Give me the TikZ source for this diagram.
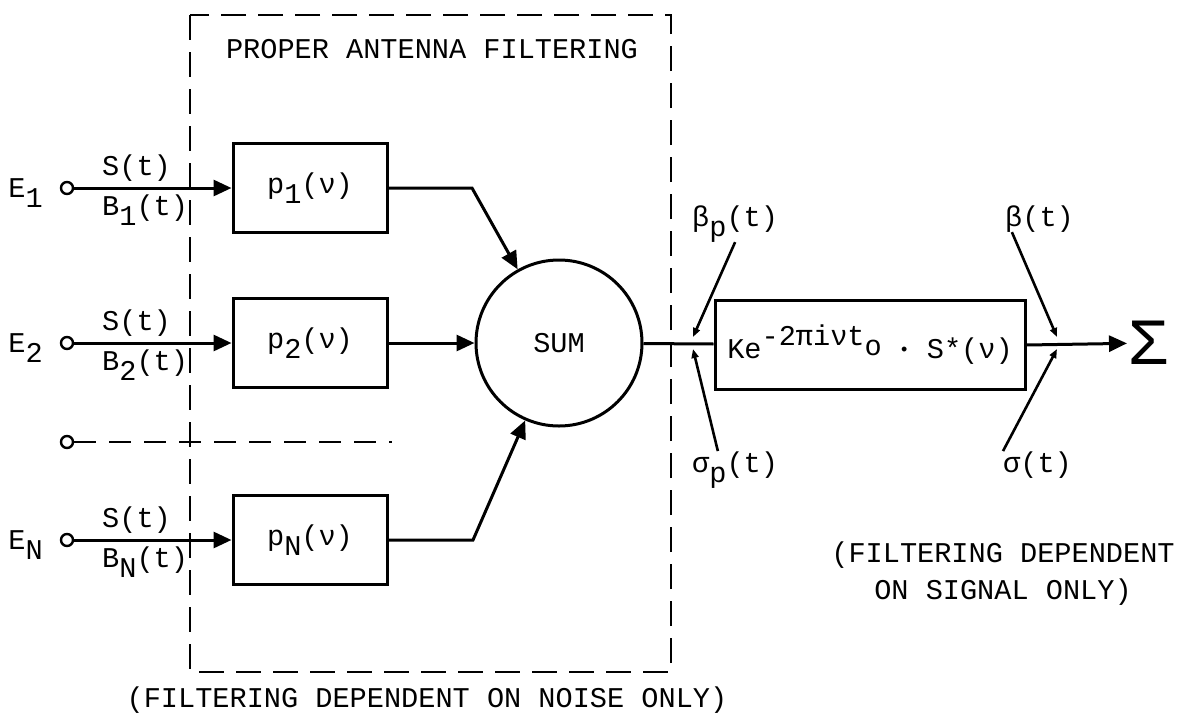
\documentclass[tikz,border=0pt]{standalone}
\usepackage{fontspec}
\setmonofont{Liberation Mono}
\usetikzlibrary{arrows.meta, positioning, calc}
\newcommand{\lo}[1]{\raisebox{-0.35em}{#1}}
\newcommand{\hi}[1]{\raisebox{0.45em}{#1}}
\newcommand{\canal}[3]{%
  \node[draw, circle, minimum size=12, line width=2.4pt] (in#1) at (67,#2) {};
  \node[anchor=base east] (E#1) at (43,#2+9) {E\lo{#3}};
  \node[draw, line width=3pt, minimum width=154, minimum height=89] (p#1) at (310,#2) {p\lo{#3}(ν)};
  \draw[line width=3pt, -{Triangle[length=18pt,width=16pt]}] (in#1) -- (p#1);
  \node[anchor=base west] (S#1) at (102,#2-13) {S(t)};
  \node[anchor=base west] (B#1) at (102,#2+27) {B\lo{#3}(t)};%
}

\begin{document}
\begin{tikzpicture}[x=1pt, y=-1pt, inner sep=0pt,
    font=\ttfamily\fontsize{28.6}{30}\selectfont]
  \useasboundingbox (0,0) rectangle (1179,713);
  % noise filtering block
  \draw[line width=2.6pt, dash pattern=on 25pt off 12pt] (190,15) rectangle (671,672);
  \node[anchor=base] (proper) at (432,58) {PROPER ANTENNA FILTERING};
  \canal{1}{188}{1}
  \canal{2}{343}{2}
  \canal{3}{540}{N}
  \node[draw, circle, minimum size=12, line width=2.4pt] (dots) at (67,442) {};
  \coordinate (dotsend) at (392,442);
  \draw[line width=2.6pt, dash pattern=on 22pt off 13pt] (dots) -- (dotsend);
  \node[draw, circle, minimum size=166, line width=3pt] (sum) at (559,343) {SUM};
  \coordinate (k1) at (472,188);
  \coordinate (k3) at (473,540);
  \draw[line width=3pt, -{Triangle[length=18pt,width=16pt]}] (p1.east) -- (k1) -- (sum);
  \draw[line width=3pt, -{Triangle[length=18pt,width=16pt]}] (p2) -- (sum);
  \draw[line width=3pt, -{Triangle[length=18pt,width=16pt]}] (p3.east) -- (k3) -- (sum);
  \node[anchor=base] (noise) at (427,707) {(FILTERING DEPENDENT ON NOISE ONLY)};
  % signal filtering
  \node[draw, line width=3pt, minimum width=310, minimum height=89] (filt) at (870,345)
    {Ke\hi{-2πiνt\lo{o}} {\fontsize{18}{18}\selectfont\raisebox{0.2em}{•}} S*(ν)};
  \node[inner sep=1pt, font=\ttfamily\fontsize{66}{66}\selectfont] (out) at (1148,343) {Σ};
  \draw[line width=3pt] (sum) -- (filt);
  \draw[line width=3pt, -{Triangle[length=18pt,width=16pt]}] (filt.east) -- (out);
  \node[anchor=base west] (bp) at (692,226) {β\lo{p}(t)};
  \node[anchor=base west] (sp) at (692,472) {σ\lo{p}(t)};
  \node[anchor=base west] (b) at (1005,226) {β(t)};
  \node[anchor=base west] (s) at (1003,472) {σ(t)};
  \coordinate (jpa) at (693,337);
  \coordinate (jpb) at (693,349);
  \coordinate (ja) at (1057,337);
  \coordinate (jb) at (1057,349);
  \draw[line width=2.6pt, -{Triangle[length=9pt,width=7pt]}] (bp.south) -- (jpa);
  \draw[line width=2.6pt, -{Triangle[length=9pt,width=7pt]}] ($(sp.north west)!0.3!(sp.north east)$) -- (jpb);
  \draw[line width=2.6pt, -{Triangle[length=9pt,width=7pt]}] ($(b.south west)!0.1!(b.south east)$) -- (ja);
  \draw[line width=2.6pt, -{Triangle[length=9pt,width=7pt]}] (s.north west) -- (jb);
  \node[anchor=base] (sig1) at (1003,562) {(FILTERING DEPENDENT};
  \node[anchor=base] (sig2) at (1003,599) {ON SIGNAL ONLY)};
\end{tikzpicture}
\end{document}
